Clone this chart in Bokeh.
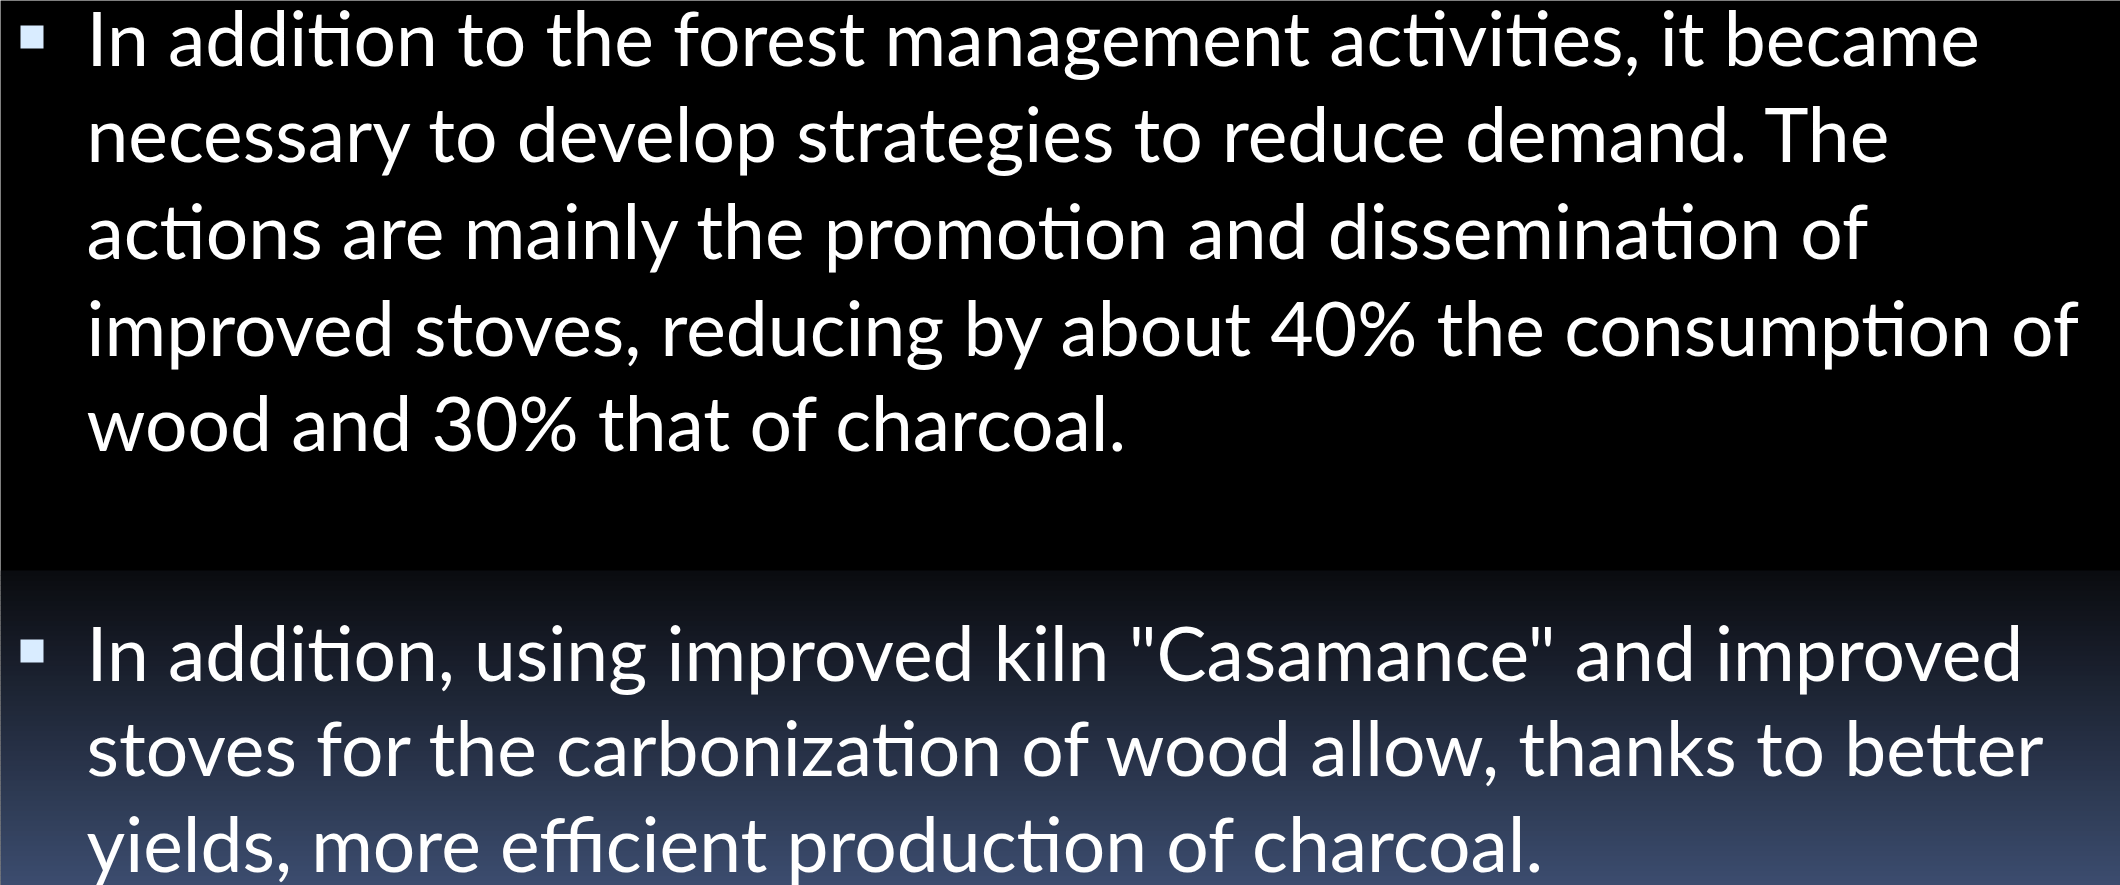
from bokeh.plotting import figure
from bokeh.models import Range1d
from bokeh.core.properties import value
from bokeh.embed import file_html
from bokeh.resources import INLINE
import numpy as np

# ---- content ----
para1_lines = [
    "In addition to the forest management activities, it became",
    "necessary to develop strategies to reduce demand. The",
    "actions are mainly the promotion and dissemination of",
    "improved stoves, reducing by about 40% the consumption of",
    "wood and 30% that of charcoal.",
]
para2_lines = [
    "In addition, using improved kiln \"Casamance\" and improved",
    "stoves for the carbonization of wood allow, thanks to better",
    "yields, more efficient production of charcoal.",
]
para1_baselines = [63, 159, 256, 353, 448]
para2_baselines = [678, 773, 869]
bullet_tops = [25, 639]

W, H = 2120, 885
FS = 75
SHIFT = 27  # svg text baseline correction
p = figure(width=W, height=H, output_backend="svg", toolbar_location=None,
           x_range=Range1d(0, W), y_range=Range1d(H, 0),
           min_border=0, outline_line_color=None)
p.axis.visible = False
p.grid.visible = False
p.background_fill_color = "black"
p.border_fill_color = "black"

# background gradient (black top, navy blue at bottom)
g0, g1 = 570, H
c0 = np.array([10, 11, 15])
c1 = np.array([60, 77, 111])
edges = np.linspace(g0, g1, 64)
tops, bots, cols = [], [], []
for i in range(len(edges) - 1):
    t = (i + 0.5) / (len(edges) - 1)
    c = c0 + (c1 - c0) * t
    tops.append(edges[i])
    bots.append(edges[i + 1] + 0.6)
    cols.append("#%02x%02x%02x" % tuple(int(round(v)) for v in c))
p.quad(left=0, right=W, top=tops, bottom=bots, fill_color=cols, line_color=None)

# bullets
p.quad(left=[20, 20], right=[43, 43], top=bullet_tops, bottom=[b + 23 for b in bullet_tops],
       fill_color="#d9ecff", line_color=None)

font = value("Lato")
p.text(x=[86] * len(para1_lines), y=[b - SHIFT for b in para1_baselines], text=para1_lines,
       text_font=font, text_font_size=f"{FS}px", text_color="white", text_baseline="alphabetic")
p.text(x=[86] * len(para2_lines), y=[b - SHIFT for b in para2_baselines], text=para2_lines,
       text_font=font, text_font_size=f"{FS}px", text_color="white", text_baseline="alphabetic")

open("out.html", "w").write(file_html(p, INLINE))
